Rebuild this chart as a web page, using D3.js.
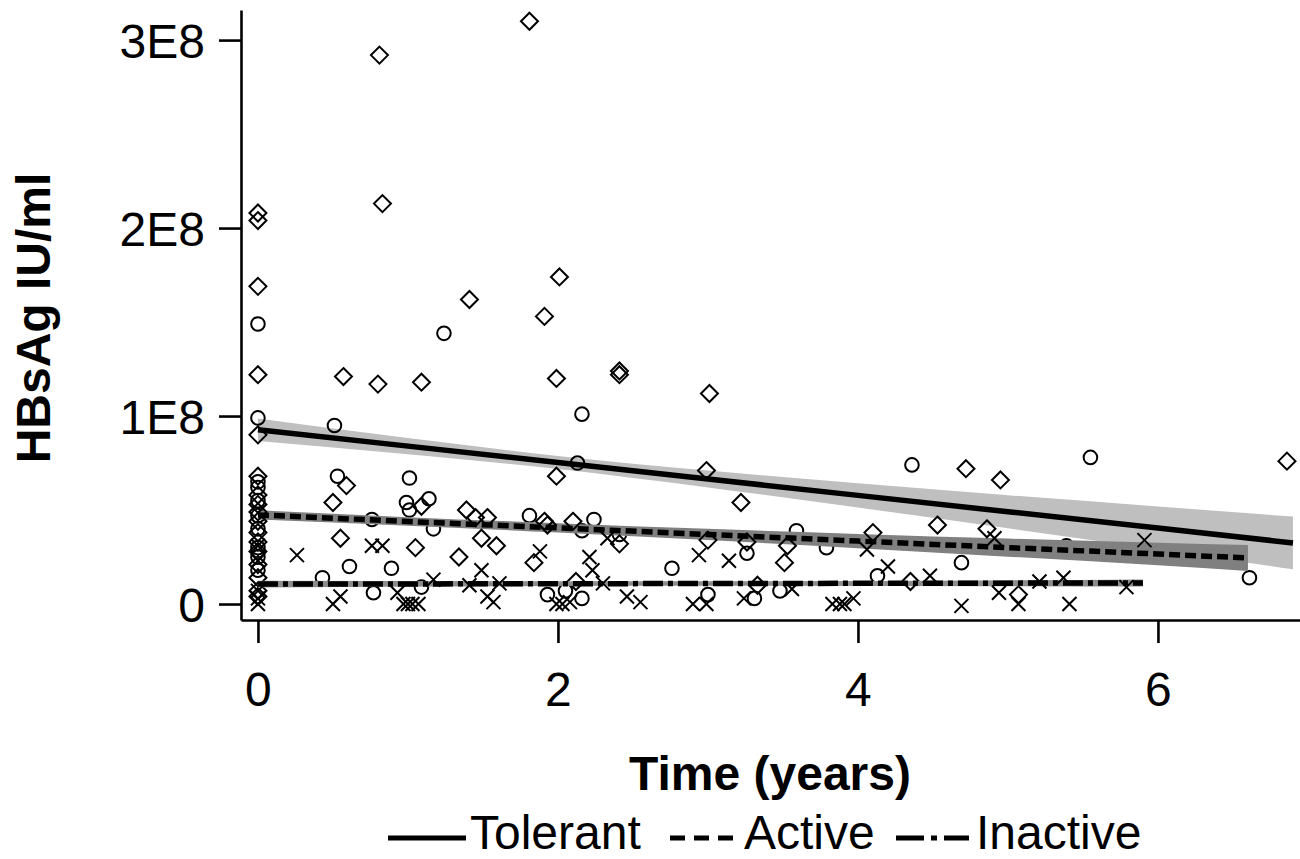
<!DOCTYPE html>
<html lang="en">
<head>
<meta charset="UTF-8">
<title>HBsAg over time</title>
<style>
  body { margin: 0; background: #fff; }
  svg { display: block; }
  svg text { font-family: "Liberation Sans", Arial, sans-serif; fill: #000; }
  .axis path, .axis line { stroke: #000; stroke-width: 2.6px; }
  .axis text { font-size: 48px; }
  .title { font-size: 48px; font-weight: bold; }
  .legend text { font-size: 48px; }
  .marker { fill: none; stroke: #000; stroke-width: 2px; }
</style>
</head>
<body>
<div id="chart"></div>
<script src="https://cdnjs.cloudflare.com/ajax/libs/d3/7.8.5/d3.min.js"></script>
<script>
  // HBsAg values are in millions of IU/ml, time in years
  var tolerantTime = [1.81, 0.81, 0.83, 0, 0, 0, 0, 0, 1.41, 1.91, 2.01, 0.57, 0.80, 1.09, 1.99, 2.41, 2.41, 3.01,
    0.59, 0.50, 1.09, 1.39, 1.45, 1.53, 1.91, 1.93, 0.55, 1.05, 1.34, 1.49, 1.59, 1.84, 1.99, 2.10, 2.99, 3.22,
    2.41, 3.00, 3.26, 3.53, 3.51, 2.12, 3.33, 4.72, 4.95, 6.86, 4.53, 4.86, 4.10, 4.35, 5.07,
    0, 0, 0, 0, 0, 0, 0, 0, 0, 0, 0, 0];
  var tolerantValue = [310, 292, 213, 208, 204, 169, 122, 90, 162, 153, 174, 121, 117, 118, 120, 124, 122, 112,
    63, 54, 52, 50, 46, 46, 44, 42, 35, 30, 25, 35, 31, 22, 68, 44, 71, 54,
    32, 34, 33, 31, 22, 12, 10, 72, 66, 76, 42, 40, 38, 12, 5,
    68, 58, 53, 49, 44, 38, 33, 28, 21, 14, 7, 4];

  var activeTime = [0, 0, 0.51, 1.24, 2.16, 2.13, 4.36, 5.55, 0.53, 1.01, 0.99, 1.01, 1.14, 1.81, 0.76, 1.17,
    0.61, 0.89, 0.43, 0.77, 1.09, 1.93, 2.24, 2.16, 2.41, 3.26, 3.59, 3.79, 2.76, 2.05, 2.16, 3.00, 3.31, 3.48,
    4.69, 4.13, 5.39, 6.61, 0, 0, 0, 0, 0, 0, 0, 0];
  var activeValue = [149, 99, 95, 144, 101, 75, 74, 78, 68, 67, 54, 50, 56, 47, 45, 40,
    20, 19, 14, 6, 9, 5, 45, 39, 37, 27, 39, 30, 19, 7, 3, 5, 3, 7,
    22, 15, 31, 14, 65, 62, 55, 47, 40, 30, 25, 18];

  var inactiveTime = [0.26, 0.76, 0.83, 1.49, 1.88, 1.17, 1.41, 1.61, 0.50, 0.55, 0.93, 0.97, 1.00, 1.03, 1.07,
    1.57, 1.53, 1.99, 2.33, 2.94, 3.14, 2.21, 2.23, 2.30, 2.03, 2.08, 2.46, 2.55, 2.90, 2.99, 3.24, 3.56,
    3.83, 3.88, 3.91, 3.97, 4.06, 4.91, 5.91, 4.20, 4.48, 5.21, 5.37, 5.79, 4.69, 4.94, 5.07, 5.41,
    0, 0, 0, 0, 0];
  var inactiveValue = [26, 31, 31, 18, 28, 13, 10, 11, 0, 4, 6, 0, 0, 0, 0,
    1, 4, 0, 35, 26, 23, 25, 18, 11, 0, 1, 4, 1, 0, 0, 3, 8,
    0, 0, 0, 3, 29, 35, 34, 20, 15, 12, 14, 9, -1, 6, 0, 0,
    0, 3, 7, 23, 31];

  // fitted lines with confidence bands
  var tolerantFitTime = [0, 1, 2, 3, 4, 5, 6, 6.9];
  var tolerantFit = [92.7, 84.0, 75.3, 66.5, 57.8, 49.1, 40.4, 32.5];
  var tolerantUpper = [98.7, 88.3, 78.8, 71.0, 64.3, 57.9, 51.9, 46.5];
  var tolerantLower = [86.7, 79.7, 71.8, 62.0, 51.3, 40.3, 28.9, 18.5];

  var activeFitTime = [0, 1, 2, 3, 4, 5, 6, 6.6];
  var activeFit = [47.4, 43.9, 40.5, 37.0, 33.5, 30.0, 26.6, 24.5];
  var activeUpper = [49.9, 46.2, 43.0, 40.0, 37.3, 34.8, 32.6, 31.4];
  var activeLower = [44.9, 41.6, 38.0, 34.0, 29.7, 25.2, 20.6, 17.6];

  var inactiveFitTime = [0, 3, 5.9];
  var inactiveFit = [10.6, 10.9, 11.2];
  var inactiveUpper = [12.4, 12.1, 13.1];
  var inactiveLower = [8.8, 9.7, 9.3];

  var xTicks = [0, 2, 4, 6];
  var yTicks = [0, 100, 200, 300];
  var yTickLabels = ['0', '1E8', '2E8', '3E8'];
  var legendNames = ['Tolerant', 'Active', 'Inactive'];

  var width = 1300, height = 859;
  var plot = {left: 241, right: 1300, top: 10, bottom: 620};

  var svg = d3.select('#chart').append('svg')
    .attr('width', width)
    .attr('height', height);

  var x = d3.scaleLinear().domain([-0.113, 6.947]).range([plot.left, plot.right]);
  var y = d3.scaleLinear().domain([-8.5, 316]).range([plot.bottom, plot.top]);

  var zip = function(a, b) {
    return a.map(function(v, i) { return [v, b[i]]; });
  };

  var area = d3.area()
    .x(function(d) { return x(d[0]); })
    .y0(function(d) { return y(d[1]); })
    .y1(function(d) { return y(d[2]); })
    .curve(d3.curveMonotoneX);
  var line = d3.line()
    .x(function(d) { return x(d[0]); })
    .y(function(d) { return y(d[1]); });

  var band = function(t, lo, hi, fill) {
    svg.append('path')
      .datum(t.map(function(v, i) { return [v, lo[i], hi[i]]; }))
      .attr('d', area)
      .attr('fill', fill);
  };
  var fitLine = function(t, v, dash) {
    svg.append('path')
      .datum(zip(t, v))
      .attr('d', line)
      .attr('fill', 'none')
      .attr('stroke', '#000')
      .attr('stroke-width', 5.5)
      .attr('stroke-dasharray', dash);
  };

  var dots = function(t, v, shape) {
    var g = svg.append('g');
    var pts = zip(t, v);
    if (shape === 'circle') {
      g.selectAll('circle').data(pts).enter().append('circle')
        .attr('class', 'marker')
        .attr('cx', function(d) { return x(d[0]); })
        .attr('cy', function(d) { return y(d[1]); })
        .attr('r', 6.8);
    } else if (shape === 'diamond') {
      g.selectAll('path').data(pts).enter().append('path')
        .attr('class', 'marker')
        .attr('transform', function(d) { return 'translate(' + x(d[0]) + ',' + y(d[1]) + ')'; })
        .attr('d', 'M0,-8.5L8.5,0L0,8.5L-8.5,0Z');
    } else {
      g.selectAll('path').data(pts).enter().append('path')
        .attr('class', 'marker')
        .attr('stroke-width', 1.7)
        .attr('transform', function(d) { return 'translate(' + x(d[0]) + ',' + y(d[1]) + ')'; })
        .attr('d', 'M-7,-7L7,7M-7,7L7,-7');
    }
  };

  band(tolerantFitTime, tolerantLower, tolerantUpper, '#bfbfbf');
  fitLine(tolerantFitTime, tolerantFit, null);
  dots(activeTime, activeValue, 'circle');
  band(activeFitTime, activeLower, activeUpper, '#808080');
  fitLine(activeFitTime, activeFit, '11,5');
  dots(tolerantTime, tolerantValue, 'diamond');
  band(inactiveFitTime, inactiveLower, inactiveUpper, '#8c8c8c');
  fitLine(inactiveFitTime, inactiveFit, '20,5,5,5');
  dots(inactiveTime, inactiveValue, 'x');

  // axes
  var yAxis = d3.axisLeft(y)
    .tickValues(yTicks)
    .tickFormat(function(d, i) { return yTickLabels[i]; })
    .tickSize(22)
    .tickSizeOuter(0)
    .tickPadding(14);
  var yg = svg.append('g')
    .attr('class', 'axis')
    .attr('transform', 'translate(' + plot.left + ',0)')
    .call(yAxis);
  yg.attr('font-family', null).attr('font-size', null);
  yg.selectAll('text').attr('dy', '0.36em');

  var xAxis = d3.axisBottom(x)
    .tickValues(xTicks)
    .tickFormat(d3.format('d'))
    .tickSize(23)
    .tickSizeOuter(0);
  var xg = svg.append('g')
    .attr('class', 'axis')
    .attr('transform', 'translate(0,' + plot.bottom + ')')
    .call(xAxis);
  xg.attr('font-family', null).attr('font-size', null);
  xg.selectAll('text').attr('y', 86).attr('dy', 0);

  svg.append('text')
    .attr('class', 'title')
    .attr('x', 770)
    .attr('y', 790)
    .attr('text-anchor', 'middle')
    .text('Time (years)');

  svg.append('text')
    .attr('class', 'title')
    .attr('transform', 'translate(50,318) rotate(-90)')
    .attr('text-anchor', 'middle')
    .text('HBsAg IU/ml');

  // legend
  var legend = svg.append('g').attr('class', 'legend');
  var keys = [
    {x1: 388, x2: 466, dash: null, tx: 470},
    {x1: 670, x2: 733, dash: '15,9', tx: 744},
    {x1: 896, x2: 969, dash: '28,7,6,7,28', tx: 976}
  ];
  keys.forEach(function(k, i) {
    legend.append('line')
      .attr('x1', k.x1).attr('x2', k.x2)
      .attr('y1', 838).attr('y2', 838)
      .attr('stroke', '#000')
      .attr('stroke-width', 5)
      .attr('stroke-dasharray', k.dash);
    legend.append('text')
      .attr('x', k.tx)
      .attr('y', 849)
      .text(legendNames[i]);
  });
</script>
</body>
</html>
